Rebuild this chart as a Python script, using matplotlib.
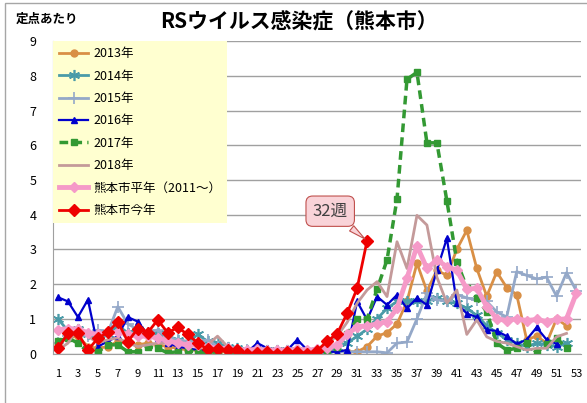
import numpy as np
import matplotlib.pyplot as plt
from matplotlib.patches import Rectangle

plt.rcParams['font.family'] = ['Noto Sans CJK JP', 'DejaVu Sans']

weeks = np.arange(1, 54)

y2013 = [0.3, 0.45, 0.5, 0.2, 0.15, 0.2, 0.35, 0.3, 0.25, 0.3, 0.25, 0.2, 0.15, 0.1, 0.1, 0.05, 0.05, 0.05,
         0.05, 0.05, 0.05, 0.05, 0.05, 0.05, 0.05, 0.05, 0.05, 0.05, 0.1, 0.05, 0.05, 0.2, 0.5, 0.6, 0.85, 1.5,
         2.6, 1.8, 2.4, 2.25, 3.0, 3.55, 2.45, 1.65, 2.35, 1.9, 1.7, 0.4, 0.5, 0.3, 1.0, 0.8]
y2014 = [1.0, 0.65, 0.7, 0.55, 0.5, 0.55, 0.8, 0.6, 0.7, 0.55, 0.6, 0.5, 0.4, 0.3, 0.55, 0.35, 0.3, 0.2,
         0.15, 0.1, 0.1, 0.1, 0.1, 0.1, 0.1, 0.05, 0.1, 0.1, 0.2, 0.3, 0.5, 0.7, 1.0, 1.3, 1.5, 1.5,
         1.5, 1.5, 1.6, 1.5, 1.45, 1.3, 1.1, 0.8, 0.6, 0.4, 0.3, 0.2, 0.3, 0.25, 0.2, 0.3]
y2015 = [0.3, 0.5, 0.6, 0.5, 0.68, 0.6, 1.35, 0.85, 0.7, 0.6, 0.68, 0.45, 0.4, 0.35, 0.3, 0.39, 0.2, 0.15,
         0.1, 0.1, 0.1, 0.05, 0.05, 0.05, 0.05, 0.05, 0.05, 0.05, 0.05, 0.05, 0.05, 0.05, 0.05, 0.02, 0.3, 0.33,
         1.0, 1.73, 1.55, 1.5, 1.7, 1.6, 1.55, 1.5, 1.2, 1.05, 2.36, 2.25, 2.15, 2.2, 1.65, 2.33, 1.8]
y2016 = [1.62, 1.5, 1.05, 1.55, 0.2, 0.35, 0.5, 1.05, 0.92, 0.55, 0.45, 0.3, 0.2, 0.15, 0.1, 0.05, 0.05, 0.1,
         0.05, 0.05, 0.3, 0.15, 0.1, 0.1, 0.4, 0.1, 0.05, 0.05, 0.05, 0.1, 1.5, 0.97, 1.64, 1.4, 1.69, 1.3,
         1.6, 1.4, 2.4, 3.32, 1.45, 1.15, 1.05, 0.68, 0.65, 0.5, 0.27, 0.4, 0.75, 0.4, 0.28]
y2017 = [0.35, 0.45, 0.3, 0.05, 0.05, 0.25, 0.25, 0.05, 0.05, 0.2, 0.15, 0.02, 0.05, 0.1, 0.02, 0.02, 0.05, 0.05,
         0.02, 0.02, 0.05, 0.05, 0.05, 0.05, 0.05, 0.05, 0.05, 0.1, 0.2, 0.55, 1.0, 1.0, 1.85, 2.7, 4.45, 7.9,
         8.1, 6.07, 6.07, 4.4, 2.65, 1.9, 1.6, 1.2, 0.3, 0.1, 0.15, 0.3, 0.03, 0.27, 0.45, 0.15]
y2018 = [0.1, 0.3, 0.75, 0.5, 0.3, 0.4, 0.45, 0.3, 0.2, 0.25, 0.3, 0.3, 0.35, 0.25, 0.2, 0.25, 0.5, 0.2,
         0.1, 0.1, 0.1, 0.1, 0.1, 0.1, 0.1, 0.1, 0.1, 0.3, 0.5, 0.9, 1.45, 1.83, 2.07, 1.64, 3.22, 2.45,
         3.98, 3.7, 2.2, 1.45, 1.83, 0.55, 0.97, 0.48, 0.35, 0.3, 0.2, 0.1, 0.15, 0.15, 0.48, 0.58]
heinen = [0.68, 0.72, 0.7, 0.6, 0.55, 0.58, 0.62, 0.55, 0.5, 0.5, 0.45, 0.37, 0.3, 0.25, 0.25, 0.2, 0.15, 0.15,
          0.12, 0.1, 0.12, 0.1, 0.1, 0.1, 0.12, 0.1, 0.12, 0.15, 0.25, 0.55, 0.77, 0.8, 0.85, 0.92, 1.3, 2.17,
          3.1, 2.45, 2.7, 2.5, 2.4, 1.85, 1.88, 1.35, 1.0, 0.95, 1.0, 0.95, 0.98, 0.92, 0.98, 1.0, 1.75]
kotoshi = [0.15, 0.58, 0.58, 0.1, 0.44, 0.61, 0.92, 0.34, 0.72, 0.6, 0.97, 0.6, 0.75, 0.55, 0.31, 0.12, 0.14,
           0.1, 0.1, 0.0, 0.02, 0.05, 0.0, 0.03, 0.05, 0.0, 0.08, 0.36, 0.57, 1.16, 1.88, 3.25]

fig = plt.figure(figsize=(5.87, 4.03), dpi=100)
ax = fig.add_axes([0.0903, 0.1228, 0.9003, 0.7752])

# frame around the whole chart
fig.patches.append(Rectangle((5 / 587, -0.1), 1.2, 1 - 3 / 403 + 0.1, transform=fig.transFigure,
                             fill=False, ec='#A6A6A6', lw=1))

ax.plot(weeks[:len(y2013)], y2013, color='#D98F45', lw=2, marker='o', ms=5, label='2013年')
ax.plot(weeks[:len(y2014)], y2014, color='#4A9BA8', lw=2, marker=(6, 2, 0), ms=8, mew=1.2, label='2014年')
ax.plot(weeks[:len(y2015)], y2015, color='#94A8C8', lw=2, marker='+', ms=8, mew=1.2, label='2015年')
ax.plot(weeks[:len(y2016)], y2016, color='#0000CC', lw=1.6, marker='^', ms=5, label='2016年')
ax.plot(weeks[:len(y2017)], y2017, color='#339933', lw=2.5, ls=(0, (2.5, 1.5)), marker='s', ms=5, label='2017年')
ax.plot(weeks[:len(y2018)], y2018, color='#C49A9A', lw=2, label='2018年')
ax.plot(weeks[:len(heinen)], heinen, color='#F59AC8', lw=3.5, marker='D', ms=5.5, label='熊本市平年（2011～）')
ax.plot(weeks[:len(kotoshi)], kotoshi, color='#EE0000', lw=2, marker='D', ms=6, label='熊本市今年')

ax.set_xlim(0.5, 53.5)
ax.set_ylim(0, 9)
ax.set_yticks(range(0, 10))
ax.set_xticks(range(1, 54, 2))
ax.tick_params(length=0, labelsize=8)
ax.tick_params(axis='y', pad=12, labelsize=9)
ax.tick_params(axis='x', pad=11)
ax.grid(axis='y', color='#A0A0A0', lw=1)
ax.set_axisbelow(True)
for s in ['top', 'right']:
    ax.spines[s].set_visible(False)
for s in ['left', 'bottom']:
    ax.spines[s].set_color('#A0A0A0')

leg = ax.legend(loc='upper left', bbox_to_anchor=(0, 1), borderaxespad=0, fontsize=9,
                facecolor='#FFFFD0', framealpha=1, edgecolor='none', fancybox=False,
                handlelength=2.3, handletextpad=0.4, labelspacing=0.75, borderpad=0.5)

ax.annotate('32週', xy=(32, 3.25), xytext=(28.3, 4.1), fontsize=12, color='#404040',
            ha='center', va='center',
            bbox=dict(boxstyle='round,pad=0.4', fc='#F9D3D8', ec='#C0504D', lw=0.8),
            arrowprops=dict(arrowstyle='wedge,tail_width=0.4', fc='#F9D3D8', ec='#C0504D', lw=0.8))

fig.text(0.51, 0.945, 'RSウイルス感染症（熊本市）', fontsize=15, fontweight='bold', ha='center', va='center')
fig.text(0.026, 0.952, '定点あたり', fontsize=9, fontweight='bold', ha='left', va='center')

fig.savefig('out.png', dpi=100)
